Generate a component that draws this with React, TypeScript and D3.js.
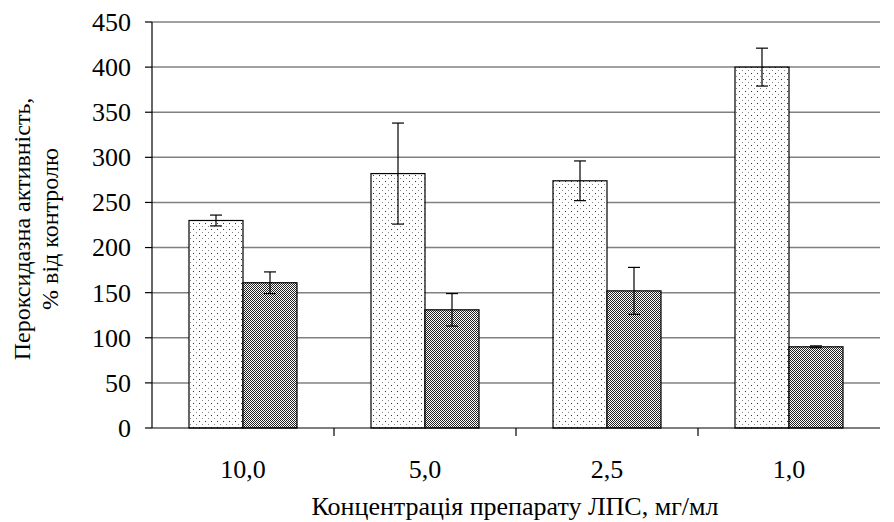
import React from "react";
import * as d3 from "d3";

const categories = ["10,0", "5,0", "2,5", "1,0"];
const seriesA = [230, 282, 274, 400];
const errA = [6, 56, 22, 21];
const seriesB = [161, 131, 152, 90];
const errB = [12, 18, 26, 1];
const yTicks = [0, 50, 100, 150, 200, 250, 300, 350, 400, 450];

export default function App() {
  const W = 894, H = 522;
  const left = 152, right = 880, top = 22, bottom = 428;
  const x = d3.scaleBand<string>().domain(categories).range([left, right]).paddingInner(0).paddingOuter(0);
  const y = d3.scaleLinear().domain([0, 450]).range([bottom, top]);
  const bw = 54;
  const ts = { fontFamily: "'Liberation Serif', 'Times New Roman', serif", fontSize: 26 };
  const ys = { fontFamily: "'Liberation Serif', 'Times New Roman', serif", fontSize: 24 };
  return (
    <svg width={W} height={H} style={{ position: "absolute", left: 0, top: 0 }}>
      <defs>
        <pattern id="dots" width="6" height="6" patternUnits="userSpaceOnUse">
          <rect width="6" height="6" fill="#fff" />
          <rect x="1" y="1" width="1" height="1" fill="#333" />
          <rect x="4" y="4" width="1" height="1" fill="#888" />
        </pattern>
        <pattern id="dense" width="2" height="2" patternUnits="userSpaceOnUse">
          <rect width="2" height="2" fill="#fff" />
          <rect x="0" y="0" width="1" height="1" fill="#222" />
          <rect x="1" y="1" width="1" height="1" fill="#222" />
        </pattern>
      </defs>
      <rect width={W} height={H} fill="#fff" />
      {yTicks.filter(t => t > 0).map(t => (
        <line key={t} x1={left} x2={right} y1={y(t)} y2={y(t)} stroke="#808080" strokeWidth={1.5} />
      ))}
      {categories.map((c, i) => {
        const cx = x(c)! + x.bandwidth() / 2;
        const xa = cx - bw, xb = cx;
        return (
          <g key={c}>
            <rect x={xa} y={y(seriesA[i])} width={bw} height={bottom - y(seriesA[i])} fill="url(#dots)" stroke="#000" strokeWidth={1.2} />
            <rect x={xb} y={y(seriesB[i])} width={bw} height={bottom - y(seriesB[i])} fill="url(#dense)" stroke="#000" strokeWidth={1.2} />
            {[{ cx: xa + bw / 2, v: seriesA[i], e: errA[i] }, { cx: xb + bw / 2, v: seriesB[i], e: errB[i] }].map((d, j) => (
              <g key={j} stroke="#000" strokeWidth={1.2}>
                <line x1={d.cx} x2={d.cx} y1={y(d.v + d.e)} y2={y(d.v - d.e)} />
                <line x1={d.cx - 6} x2={d.cx + 6} y1={y(d.v + d.e)} y2={y(d.v + d.e)} />
                <line x1={d.cx - 6} x2={d.cx + 6} y1={y(d.v - d.e)} y2={y(d.v - d.e)} />
              </g>
            ))}
          </g>
        );
      })}
      <line x1={left} x2={left} y1={top} y2={bottom} stroke="#000" strokeWidth={1.2} />
      <line x1={left} x2={right} y1={bottom} y2={bottom} stroke="#000" strokeWidth={1.2} />
      {yTicks.map(t => (
        <g key={t}>
          <line x1={left - 7} x2={left} y1={y(t)} y2={y(t)} stroke="#000" strokeWidth={1.2} />
          <text x={left - 21} y={y(t)} dy="0.34em" textAnchor="end" style={ts}>{t}</text>
        </g>
      ))}
      {categories.map((c, i) => (
        <g key={c}>
          {i > 0 && <line x1={x(c)!} x2={x(c)!} y1={bottom} y2={bottom + 8} stroke="#000" strokeWidth={1.2} />}
          <text x={x(c)! + x.bandwidth() / 2} y={478} textAnchor="middle" style={ts}>{c}</text>
        </g>
      ))}
      <text x={515} y={515} textAnchor="middle" style={ts}>Концентрація препарату ЛПС, мг/мл</text>
      <g transform="translate(30,229) rotate(-90)">
        <text x={0} y={0} textAnchor="middle" style={ys}>Пероксидазна активність,</text>
        <text x={0} y={28} textAnchor="middle" style={ys}>% від контролю</text>
      </g>
    </svg>
  );
}
